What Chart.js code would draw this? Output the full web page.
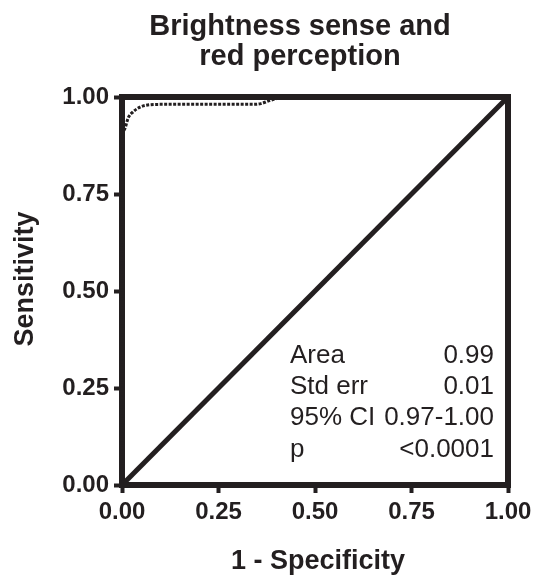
<!DOCTYPE html>
<html>
<head>
<meta charset="utf-8">
<script src="https://cdn.jsdelivr.net/npm/chart.js@4"></script>
<style>
  html, body { margin: 0; padding: 0; background: #fff; }
  #wrap { width: 536px; height: 576px; }
</style>
</head>
<body>
<div id="wrap"><canvas id="roc" width="536" height="576"></canvas></div>
<script>
// ROC curve
const rocX = [0, 0, 0.008, 0.016, 0.028, 0.047, 0.072, 0.10, 0.20, 0.34, 0.36, 0.38, 0.40, 0.42, 1];
const rocY = [0, 0.91, 0.92, 0.946, 0.961, 0.974, 0.98, 0.981, 0.981, 0.981, 0.983, 0.99, 0.996, 1, 1];

// line of no discrimination
const refX = [0, 1];
const refY = [0, 1];

const tickValues = [0, 0.25, 0.5, 0.75, 1];

const statLabels = ["Area", "Std err", "95% CI", "p"];
const statValues = ["0.99", "0.01", "0.97-1.00", "<0.0001"];

const ink = "#231f20";
const fontFam = "'Liberation Sans', Arial, sans-serif";

const textPlugin = {
    id: "textPlugin",
    afterDraw(chart)
    {
        const ctx = chart.ctx;
        const a = chart.chartArea;
        ctx.save();

        // top and right sides of the frame
        ctx.strokeStyle = ink;
        ctx.lineWidth = 6;
        ctx.beginPath();
        ctx.moveTo(a.left - 3, a.top);
        ctx.lineTo(a.right, a.top);
        ctx.lineTo(a.right, a.bottom + 3);
        ctx.stroke();

        ctx.fillStyle = ink;

        // title
        ctx.font = "bold 29px " + fontFam;
        ctx.textAlign = "center";
        ctx.textBaseline = "alphabetic";
        ctx.fillText("Brightness sense and", 300, 35);
        ctx.fillText("red perception", 300, 65);

        // axis titles
        ctx.font = "bold 27px " + fontFam;
        ctx.fillText("1 - Specificity", 318, 569);
        ctx.save();
        ctx.translate(33, 279);
        ctx.rotate(-Math.PI / 2);
        ctx.fillText("Sensitivity", 0, 0);
        ctx.restore();

        // stats box
        ctx.font = "26px " + fontFam;
        const baseLines = [363, 394, 425, 457];
        for(let i = 0; i < statLabels.length; i += 1)
        {
            ctx.textAlign = "left";
            ctx.fillText(statLabels[i], 290, baseLines[i]);
            ctx.textAlign = "right";
            ctx.fillText(statValues[i], 494, baseLines[i]);
        }
        ctx.restore();
    }
};

const axisCommon = {
    type: "linear",
    min: 0,
    max: 1,
    afterBuildTicks: (scale) => { scale.ticks = tickValues.map(v => ({ value: v })); },
    grid: {
        drawOnChartArea: false,
        drawTicks: true,
        tickLength: 8,
        tickWidth: 4,
        tickColor: ink
    },
    border: { display: true, width: 6, color: ink },
    ticks: {
        color: ink,
        font: { family: fontFam, size: 24, weight: "bold" },
        callback: (v) => Number(v).toFixed(2)
    }
};

const myChart = new Chart(document.getElementById("roc").getContext("2d"),
{
    type: "scatter",
    data:
    {
        datasets:
        [
            {
                label: "ROC",
                data: rocX.map((x, i) => ({ x: x, y: rocY[i] })),
                showLine: true,
                borderColor: ink,
                borderWidth: 3,
                borderDash: [3, 1.5],
                pointRadius: 0,
                cubicInterpolationMode: "monotone",
                clip: 6
            },
            {
                label: "Reference",
                data: refX.map((x, i) => ({ x: x, y: refY[i] })),
                showLine: true,
                borderColor: ink,
                borderWidth: 5,
                pointRadius: 0,
                clip: 6
            }
        ]
    },
    options:
    {
        responsive: false,
        animation: false,
        layout: { padding: { top: 97, right: 28, bottom: 0, left: 0 } },
        plugins: { legend: { display: false }, tooltip: { enabled: false }, title: { display: false } },
        scales:
        {
            x: Object.assign({}, axisCommon, {
                position: "bottom",
                ticks: Object.assign({}, axisCommon.ticks, { padding: 5, maxRotation: 0 }),
                afterFit: (s) => { s.height = 91; s.paddingLeft = 0; s.paddingRight = 0; }
            }),
            y: Object.assign({}, axisCommon, {
                position: "left",
                ticks: Object.assign({}, axisCommon.ticks, { padding: 5 }),
                afterFit: (s) => { s.width = 122; s.paddingTop = 0; s.paddingBottom = 0; }
            })
        }
    },
    plugins: [textPlugin]
});
</script>
</body>
</html>
